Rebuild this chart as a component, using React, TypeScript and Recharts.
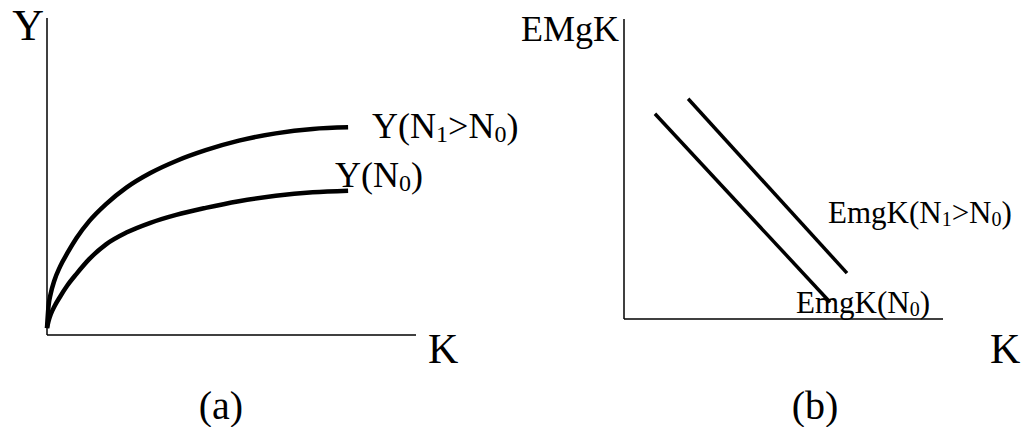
import React from 'react';
import { LineChart, Line, XAxis, YAxis } from 'recharts';

const SERIF = '"Liberation Serif", "Times New Roman", Times, serif';

// (a) production function Y(K) for two levels of labour
const capitalA = [0, 0.4, 1, 2, 3.5, 5.5, 8, 11.5, 16, 21.5, 28, 35, 43, 52, 62, 72, 81.6];
const outputN1 = [2.2, 9.0, 13.0, 17.2, 21.5, 25.8, 30.6, 36.0, 41.3, 46.5, 51.1, 54.9, 58.3, 61.3, 63.6, 65.0, 65.5];
const outputN0 = [2.2, 4.3, 6.5, 9.0, 12.0, 15.6, 19.3, 24.0, 28.6, 32.3, 35.4, 37.9, 40.1, 42.2, 43.9, 45.0, 45.5];

// (b) marginal efficiency of capital, two straight downward schedules
const capitalN0 = [9.7, 64.6];
const emgkN0 = [68.4, 5.6];
const capitalN1 = [20.1, 69.9];
const emgkN1 = [73.4, 15.3];

// "_" marks the next character as a subscript
const labelYN1 = 'Y(N_1>N_0)';
const labelYN0 = 'Y(N_0)';
const labelEN1 = 'EmgK(N_1>N_0)';
const labelEN0 = 'EmgK(N_0)';

const toRows = (xs: number[], ys: number[]) => xs.map((k, i) => ({ k, v: ys[i] }));

const dataYN1 = toRows(capitalA, outputN1);
const dataYN0 = toRows(capitalA, outputN0);
const dataEN1 = toRows(capitalN1, emgkN1);
const dataEN0 = toRows(capitalN0, emgkN0);

type Part = { s: string; sub: boolean };

const splitSub = (text: string): Part[] => {
  const parts: Part[] = [];
  let buf = '';
  for (let i = 0; i < text.length; i++) {
    if (text[i] === '_' && i + 1 < text.length) {
      if (buf) parts.push({ s: buf, sub: false });
      buf = '';
      parts.push({ s: text[i + 1], sub: true });
      i++;
    } else {
      buf += text[i];
    }
  }
  if (buf) parts.push({ s: buf, sub: false });
  return parts;
};

const SubText = ({ x, y, text, size, anchor = 'start' }: any) => {
  const shift = Math.round(size * 0.11);
  let prev = 0;
  return (
    <text x={x} y={y} fontFamily={SERIF} fontSize={size} fill="#000" textAnchor={anchor}>
      {splitSub(text).map((p, i) => {
        const cur = p.sub ? shift : 0;
        const dy = cur - prev;
        prev = cur;
        return (
          <tspan key={i} dy={dy} fontSize={p.sub ? Math.round(size * 0.66) : size}>
            {p.s}
          </tspan>
        );
      })}
    </text>
  );
};

// label drawn next to the last point of a series
const endLabel = (text: string, size: number, dx: number, dy: number, count: number) => (props: any) => {
  if (props.index !== count - 1) return <g />;
  return <SubText x={props.x + dx} y={props.y + dy} text={text} size={size} />;
};

const axisLine = { stroke: '#000', strokeWidth: 1.5 };

const PanelA = () => (
  <LineChart width={520} height={427} margin={{ top: 18, right: 104, bottom: 91, left: 46 }}>
    <XAxis
      type="number"
      dataKey="k"
      domain={[0, 100]}
      height={1}
      tick={false}
      tickLine={false}
      axisLine={axisLine}
      label={{
        content: ({ viewBox }: any) => (
          <g>
            <text x={viewBox.x + viewBox.width + 12} y={viewBox.y + 28} fontFamily={SERIF} fontSize={42}>K</text>
            <text x={221} y={419} fontFamily={SERIF} fontSize={40} textAnchor="middle">(a)</text>
          </g>
        ),
      }}
    />
    <YAxis
      type="number"
      domain={[0, 100]}
      width={1}
      tick={false}
      tickLine={false}
      axisLine={axisLine}
      label={{
        content: ({ viewBox }: any) => (
          <text x={viewBox.x - 2} y={viewBox.y + 22} fontFamily={SERIF} fontSize={44} textAnchor="end">Y</text>
        ),
      }}
    />
    <Line
      data={dataYN1}
      dataKey="v"
      type="monotone"
      stroke="#000"
      strokeWidth={4.5}
      dot={false}
      isAnimationActive={false}
      label={endLabel(labelYN1, 36, 24, 11, dataYN1.length)}
    />
    <Line
      data={dataYN0}
      dataKey="v"
      type="monotone"
      stroke="#000"
      strokeWidth={4.5}
      dot={false}
      isAnimationActive={false}
      label={endLabel(labelYN0, 36, -13, -4, dataYN0.length)}
    />
  </LineChart>
);

const PanelB = () => (
  <LineChart width={513} height={427} margin={{ top: 19, right: 90, bottom: 107, left: 103 }}>
    <XAxis
      type="number"
      dataKey="k"
      domain={[0, 100]}
      height={1}
      tick={false}
      tickLine={false}
      axisLine={axisLine}
      label={{
        content: ({ viewBox }: any) => (
          <g>
            <text x={viewBox.x + viewBox.width + 47} y={viewBox.y + 44} fontFamily={SERIF} fontSize={42}>K</text>
            <text x={295} y={419} fontFamily={SERIF} fontSize={40} textAnchor="middle">(b)</text>
          </g>
        ),
      }}
    />
    <YAxis
      type="number"
      domain={[0, 100]}
      width={1}
      tick={false}
      tickLine={false}
      axisLine={axisLine}
      label={{
        content: ({ viewBox }: any) => (
          <text x={viewBox.x - 4} y={viewBox.y + 22} fontFamily={SERIF} fontSize={36} textAnchor="end">EMgK</text>
        ),
      }}
    />
    <Line
      data={dataEN1}
      dataKey="v"
      type="linear"
      stroke="#000"
      strokeWidth={3.5}
      dot={false}
      isAnimationActive={false}
      label={endLabel(labelEN1, 31, -19, -50, dataEN1.length)}
    />
    <Line
      data={dataEN0}
      dataKey="v"
      type="linear"
      stroke="#000"
      strokeWidth={3.5}
      dot={false}
      isAnimationActive={false}
      label={endLabel(labelEN0, 31, -34, 11, dataEN0.length)}
    />
  </LineChart>
);

export default function App() {
  return (
    <div style={{ position: 'absolute', left: 0, top: 0, width: 1033, height: 427, background: '#fff' }}>
      <div style={{ position: 'absolute', left: 0, top: 0 }}>
        <PanelA />
      </div>
      <div style={{ position: 'absolute', left: 520, top: 0 }}>
        <PanelB />
      </div>
    </div>
  );
}
